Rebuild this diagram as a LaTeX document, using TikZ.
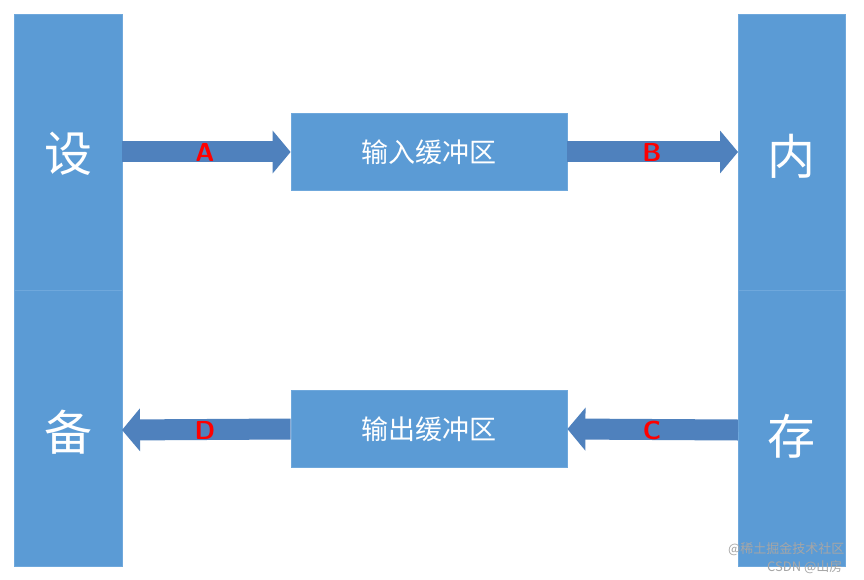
\documentclass[tikz,border=0pt]{standalone}
\usepackage{fontspec}
\newfontfamily\cjk{Noto Sans CJK SC}
\usetikzlibrary{arrows.meta}
\definecolor{bl}{HTML}{5B9BD5}
\definecolor{bd}{HTML}{6FA8DC}
\definecolor{ar}{HTML}{4F81BD}
\tikzset{
  bar/.style={fill=bl,draw=bd,line width=0.8pt},
  buf/.style={fill=bl,draw=bd,line width=0.8pt,text=white,font=\cjk\fontsize{27}{27}\selectfont,minimum width=276pt,minimum height=77pt,inner sep=0pt},
  big/.style={text=white,font=\cjk\fontsize{48}{48}\selectfont},
  fat/.style={draw=ar,line width=21pt,-{Triangle[width=42pt,length=18pt]}},
  lab/.style={text=red,font=\sffamily\bfseries\fontsize{26}{26}\selectfont},
  wm/.style={text=gray!70,font=\cjk\fontsize{13}{13}\selectfont,anchor=east}
}
\begin{document}
\begin{tikzpicture}[x=1pt,y=-1pt]
\useasboundingbox (0,0) rectangle (864,580);
\fill[white] (0,0) rectangle (864,580);
\draw[bar] (14,14) rectangle (122,290);
\draw[bar] (14,290) rectangle (122,566);
\draw[bar] (738,14) rectangle (845,290);
\draw[bar] (738,290) rectangle (845,566);
\coordinate (le1) at (122,152);
\coordinate (le2) at (122,430);
\coordinate (ri1) at (738,152);
\coordinate (ri2) at (738,430);
\node[big] (she) at (68,154) {设};
\node[big] (bei) at (68,432) {备};
\node[big] (nei) at (791,156) {内};
\node[big] (cun) at (791,436) {存};
\node[buf] (in) at (429,152) {输入缓冲区};
\node[buf] (out) at (429,429) {输出缓冲区};
\draw[fat] (le1) -- (in.west);
\draw[fat] (in.east) -- (ri1);
\draw[fat] (ri2) -- (out.east);
\draw[fat] (out.west) -- (le2);
\node[lab] (A) at (205,152) {A};
\node[lab] (B) at (652,152) {B};
\node[lab] (C) at (652,430) {C};
\node[lab] (D) at (205,430) {D};
\node[wm] (w1) at (848,549) {@稀土掘金技术社区};
\node[wm] (w2) at (846,567) {CSDN @山房};
\end{tikzpicture}
\end{document}
